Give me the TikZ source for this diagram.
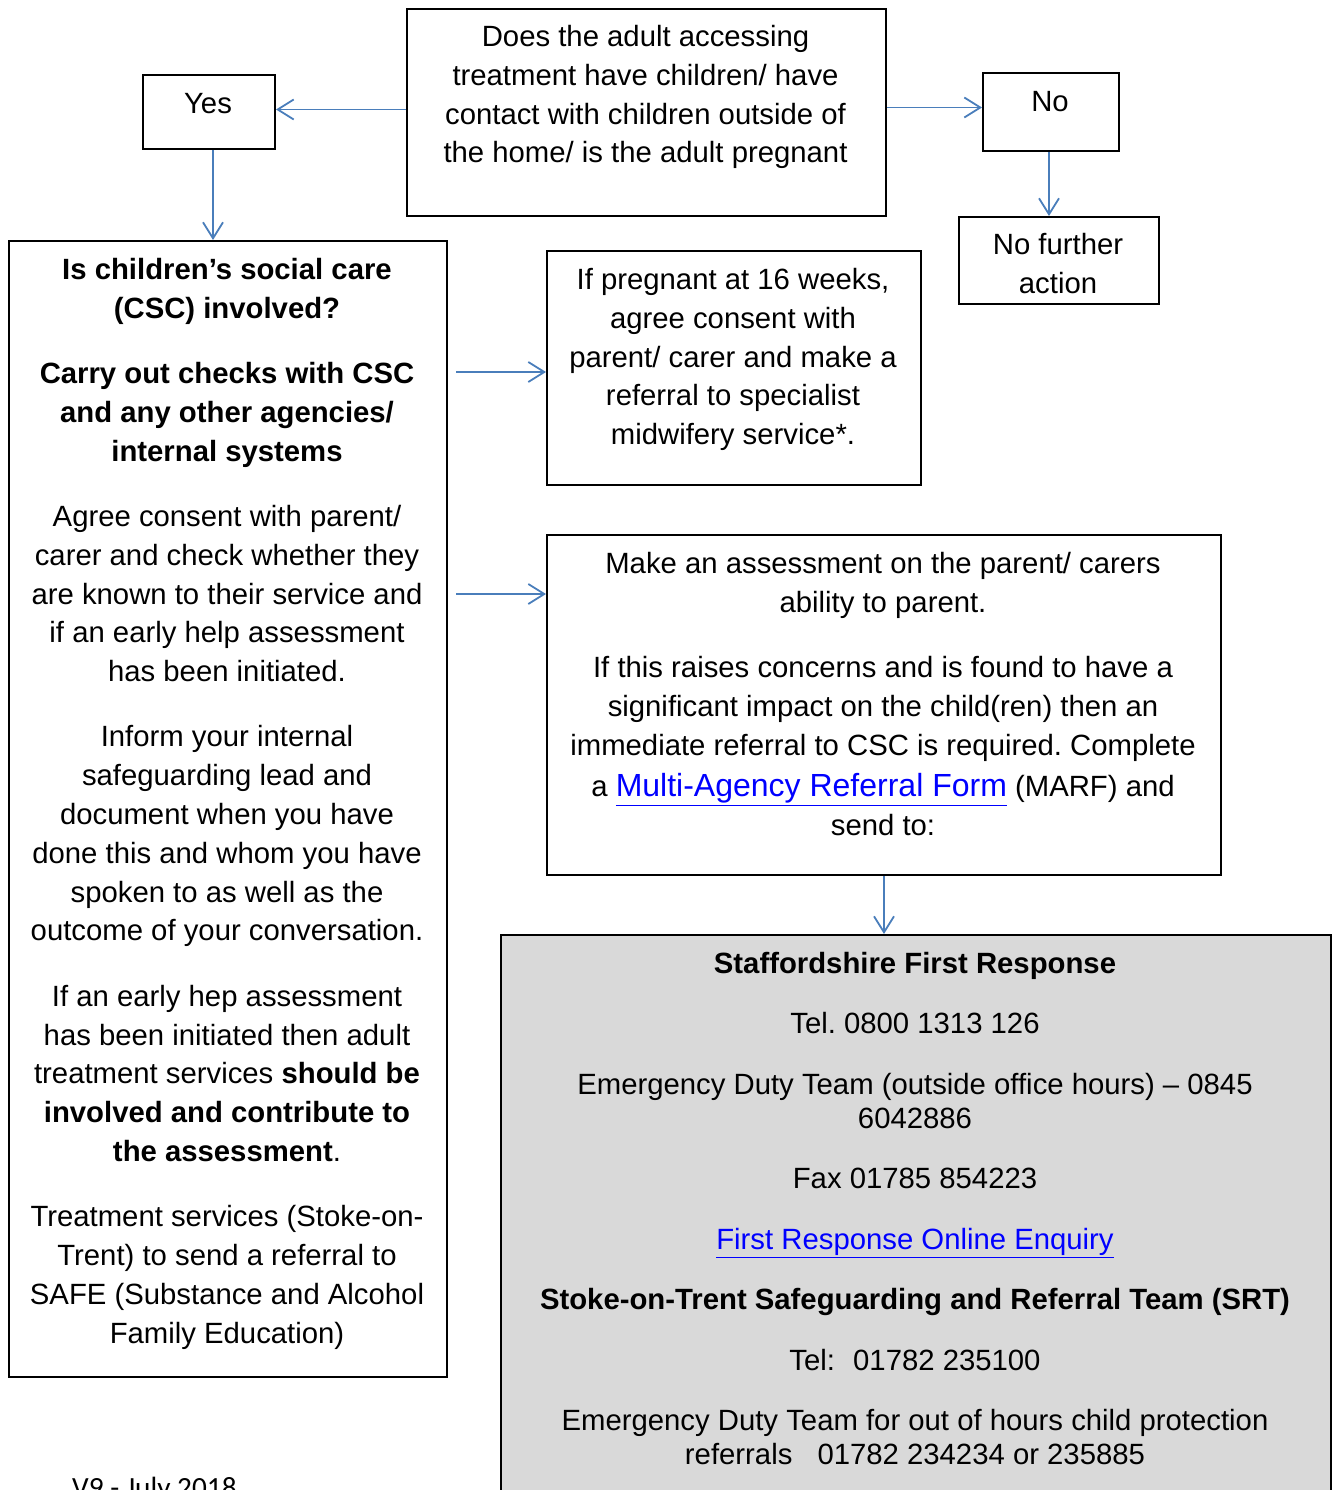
\documentclass[tikz,border=0pt]{standalone}
\usepackage{fontspec}
\setmainfont{Liberation Sans}
\newfontfamily\calibri{Carlito}
\usetikzlibrary{arrows.meta,calc}
\definecolor{arrowblue}{HTML}{4A7EBB}
\definecolor{greyfill}{HTML}{D9D9D9}
\definecolor{linkblue}{HTML}{0000FF}
\frenchspacing
\begin{document}
\begin{tikzpicture}[x=1pt,y=-1pt,
  box/.style={draw=black, line width=2pt, rectangle, inner sep=0pt, anchor=north west},
  arr/.style={draw=arrowblue, line width=1.8pt, -{Straight Barb[length=16pt,width=20pt]}},
  txt/.style={align=center, inner sep=0pt, font=\frenchspacing\fontsize{29.3}{38.8}\selectfont},
  gtxt/.style={align=center, inner sep=0pt, font=\frenchspacing\fontsize{29.3}{34}\selectfont}]
\useasboundingbox (0,0) rectangle (1331,1490);

% boxes
\node[box, minimum width=479pt, minimum height=207pt] (top) at (406,8) {};
\node[box, minimum width=132pt, minimum height=74pt] (yes) at (142,74) {};
\node[box, minimum width=136pt, minimum height=78pt] (no) at (982,72) {};
\node[box, minimum width=200pt, minimum height=87pt] (nfa) at (958,216) {};
\node[box, minimum width=438pt, minimum height=1136pt] (left) at (8,240) {};
\node[box, minimum width=374pt, minimum height=234pt] (preg) at (546,250) {};
\node[box, minimum width=674pt, minimum height=340pt] (assess) at (546,534) {};
\node[box, fill=greyfill, minimum width=830pt, minimum height=570pt] (grey) at (500,934) {};

% texts
\node[txt, anchor=north] (toptext) at (645.5,25) {Does the adult accessing\\treatment have children/ have\\contact with children outside of\\the home/ is the adult pregnant};
\node[txt] (yestext) at (208,104) {Yes};
\node[txt] (notext) at (1050,102) {No};
\node[txt, anchor=north] (nfatext) at (1058,233) {No further\\action};
\node[txt, anchor=north] (lefttext) at (227,258) {%
\textbf{Is children’s social care}\\
\textbf{(CSC) involved?}\\[26.5pt]
\textbf{Carry out checks with CSC}\\
\textbf{and any other agencies/}\\
\textbf{internal systems}\\[26.5pt]
Agree consent with parent/\\
carer and check whether they\\
are known to their service and\\
if an early help assessment\\
has been initiated.\\[26.5pt]
Inform your internal\\
safeguarding lead and\\
document when you have\\
done this and whom you have\\
spoken to as well as the\\
outcome of your conversation.\\[26.5pt]
If an early hep assessment\\
has been initiated then adult\\
treatment services \textbf{should be}\\
\textbf{involved and contribute to}\\
\textbf{the assessment}.\\[26.5pt]
Treatment services (Stoke-on-\\
Trent) to send a referral to\\
SAFE (Substance and Alcohol\\
Family Education)};
\node[txt, anchor=north] (pregtext) at (733,268) {If pregnant at 16 weeks,\\agree consent with\\parent/ carer and make a\\referral to specialist\\midwifery service*.};
\node[txt, anchor=north] (assesstext) at (883,552) {%
Make an assessment on the parent/ carers\\
ability to parent.\\[26.5pt]
If this raises concerns and is found to have a\\
significant impact on the child(ren) then an\\
immediate referral to CSC is required. Complete\\[3pt]
a {\fontsize{32}{40}\selectfont\textcolor{linkblue}{\underline{Multi-Agency Referral Form}}} (MARF) and\\
send to:};
\node[gtxt, anchor=north] (greytext) at (915,952) {%
\textbf{Staffordshire First Response}\\[26.5pt]
Tel. 0800 1313 126\\[26.5pt]
Emergency Duty Team (outside office hours) – 0845\\
6042886\\[26.5pt]
Fax 01785 854223\\[26.5pt]
\textcolor{linkblue}{\underline{First Response Online Enquiry}}\\[26.5pt]
\textbf{Stoke-on-Trent Safeguarding and Referral Team (SRT)}\\[26.5pt]
Tel:\hspace{10pt} 01782 235100\\[26.5pt]
Emergency Duty Team for out of hours child protection\\
referrals\hspace{17pt} 01782 234234 or 235885};
\node[anchor=north west, inner sep=0pt, font=\calibri\fontsize{29.3}{35}\selectfont] (version) at (72,1477) {V9 - July 2018};

% connectors
\coordinate (a1) at (456,372);
\coordinate (a2) at (456,594);
\draw[arr] ($(top.west)+(0,-3)$) -- ($(top.west -| yes.east)+(0,-3)$);
\draw[arr] ($(top.east)+(0,-5)$) -- ($(top.east -| no.west)+(0,-5)$);
\draw[arr] ([xshift=-2pt]no.south) -- ([xshift=-2pt]no.south |- nfa.north);
\draw[arr] ([xshift=4pt]yes.south) -- ([xshift=4pt]yes.south |- left.north);
\draw[arr] (a1) -- (a1 -| preg.west);
\draw[arr] (a2) -- (a2 -| assess.west);
\draw[arr] (assess.south) -- (assess.south |- grey.north);
\end{tikzpicture}
\end{document}
